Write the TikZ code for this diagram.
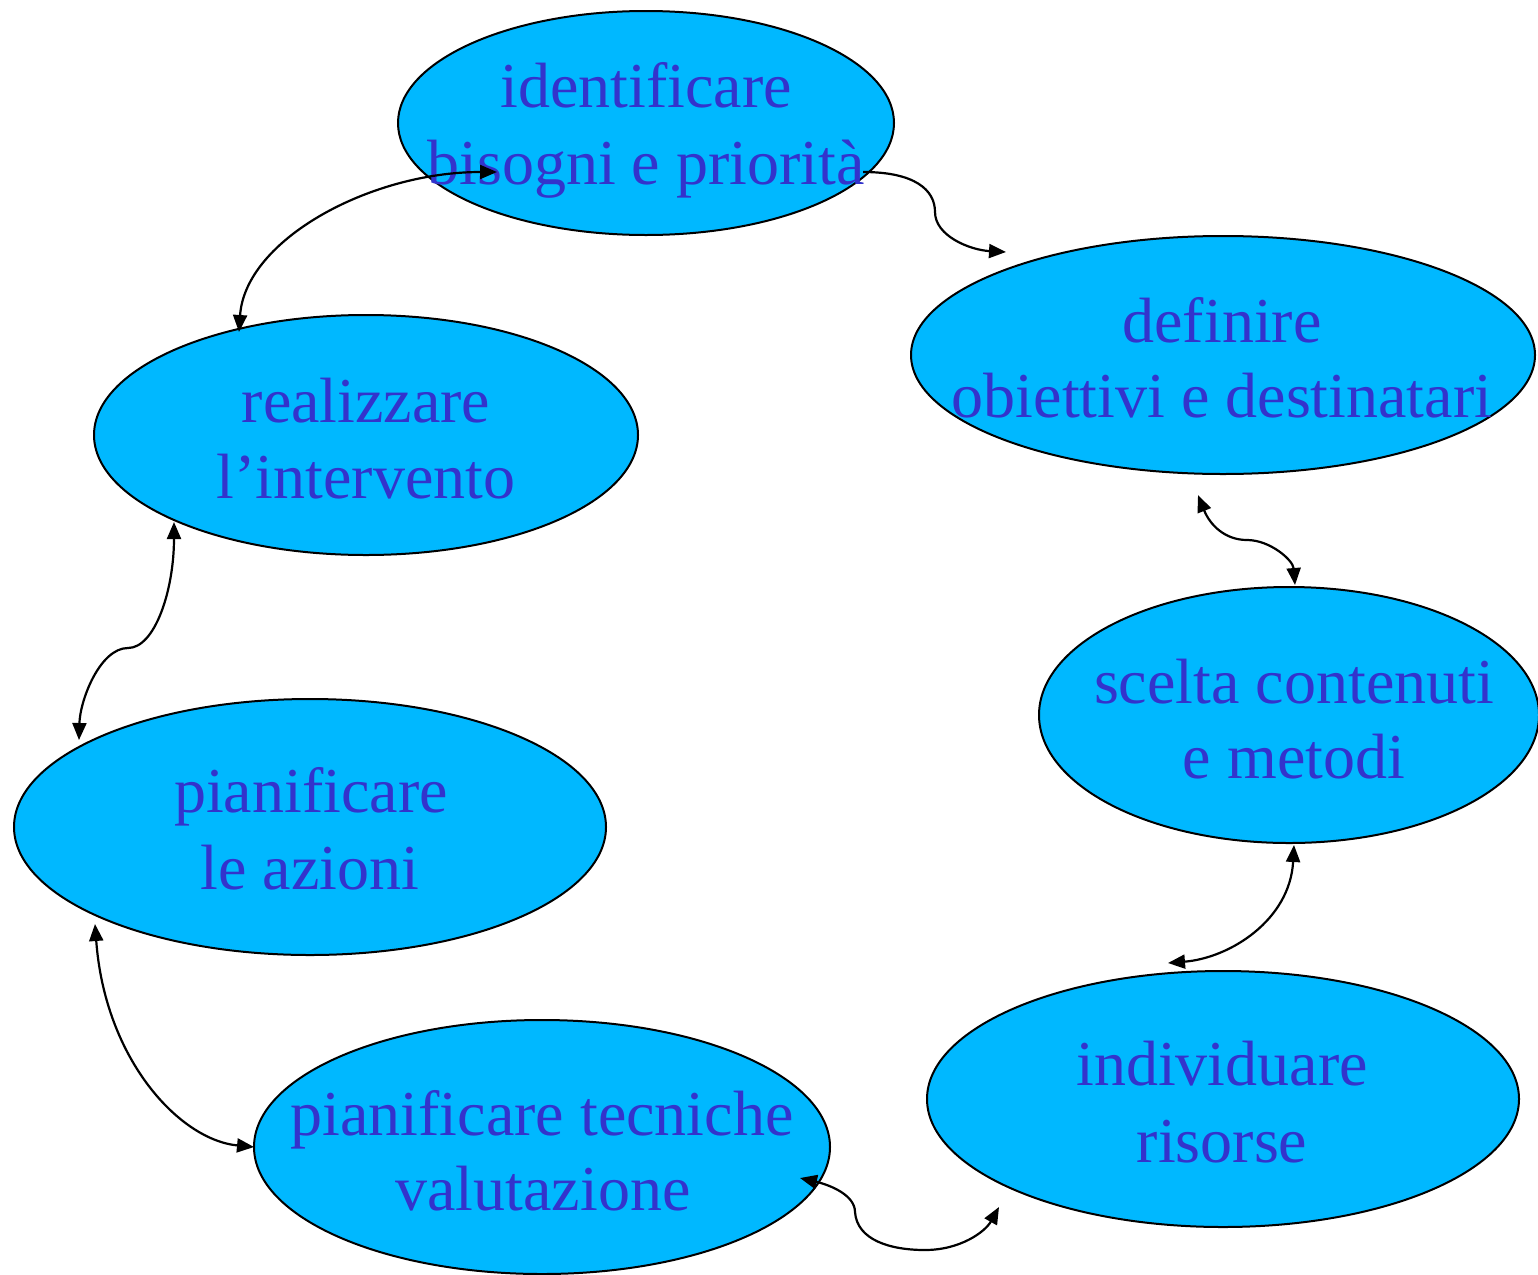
\documentclass[tikz,border=0pt]{standalone}
\usepackage{fontspec}
\setmainfont{Liberation Serif}
\usetikzlibrary{shapes.geometric,arrows.meta}
\definecolor{bubble}{RGB}{0,184,255}
\definecolor{ink}{RGB}{51,51,204}
\tikzset{
  bubble/.style={ellipse, draw=black, line width=2pt, fill=bubble, inner sep=0pt},
  lbl/.style={anchor=base, inner sep=0pt, text=ink, font=\fontsize{64}{77}\selectfont},
  link/.style={line width=2.2pt, draw=black},
  both/.style={link, {Triangle[length=17pt,width=14pt]}-{Triangle[length=17pt,width=14pt]}},
  one/.style={link, -{Triangle[length=17pt,width=14pt]}}
}
\begin{document}
\begin{tikzpicture}[x=1pt,y=-1pt]
\useasboundingbox (0,0) rectangle (1538,1274);

% steps of the cycle
\node[bubble, minimum width=496pt, minimum height=224pt] (e1) at (646,123) {};
\node[bubble, minimum width=624pt, minimum height=238pt] (e2) at (1223,355) {};
\node[bubble, minimum width=544pt, minimum height=240pt] (e3) at (366,435) {};
\node[bubble, minimum width=500pt, minimum height=256pt] (e4) at (1289,715) {};
\node[bubble, minimum width=592pt, minimum height=256pt] (e5) at (310,827) {};
\node[bubble, minimum width=592pt, minimum height=256pt] (e6) at (1223,1099) {};
\node[bubble, minimum width=576pt, minimum height=254pt] (e7) at (542,1147) {};

% labels
\node[lbl] (t1a) at (646,107) {identificare};
\node[lbl] (t1b) at (646,184) {bisogni e priorità};
\node[lbl] (t2a) at (1222,342) {definire};
\node[lbl] (t2b) at (1222,417) {obiettivi e destinatari};
\node[lbl] (t3a) at (366,422) {realizzare};
\node[lbl] (t3b) at (366,498) {l’intervento};
\node[lbl] (t4a) at (1294,703) {scelta contenuti};
\node[lbl] (t4b) at (1294,778) {e metodi};
\node[lbl] (t5a) at (311,812) {pianificare};
\node[lbl] (t5b) at (310,889) {le azioni};
\node[lbl] (t6a) at (1222,1085) {individuare};
\node[lbl] (t6b) at (1222,1162) {risorse};
\node[lbl] (t7a) at (542,1135) {pianificare tecniche};
\node[lbl] (t7b) at (543,1210) {valutazione};

% connector end points
\coordinate (a1) at (497,172);  \coordinate (a3) at (239,332);
\coordinate (b1) at (863,172);  \coordinate (b2) at (1006,252);
\coordinate (c2) at (1198,495); \coordinate (c4) at (1295,585);
\coordinate (d3) at (174,522);  \coordinate (d5) at (79,740);
\coordinate (f4) at (1294,845); \coordinate (f6) at (1168,963);
\coordinate (g5) at (95,924);   \coordinate (g7) at (254,1147);
\coordinate (h7) at (800,1178); \coordinate (h6) at (999,1207);

% connectors
\draw[both] (a3) .. controls (245,240) and (370,172) .. (a1);
\draw[one] (b1) .. controls (915,172) and (935,190) .. (935,212)
                .. controls (935,236) and (970,250) .. (b2);
\draw[both] (c2) .. controls (1210,525) and (1225,540) .. (1247,540)
                 .. controls (1270,540) and (1293,560) .. (c4);
\draw[both] (d3) .. controls (174,590) and (155,648) .. (128,648)
                 .. controls (100,648) and (80,700) .. (d5);
\draw[both] (f4) .. controls (1290,920) and (1230,958) .. (f6);
\draw[both] (g5) .. controls (105,1060) and (180,1140) .. (g7);
\draw[both] (h7) .. controls (830,1185) and (855,1195) .. (855,1212)
                 .. controls (857,1240) and (890,1250) .. (925,1250)
                 .. controls (960,1250) and (985,1232) .. (h6);
\end{tikzpicture}
\end{document}
